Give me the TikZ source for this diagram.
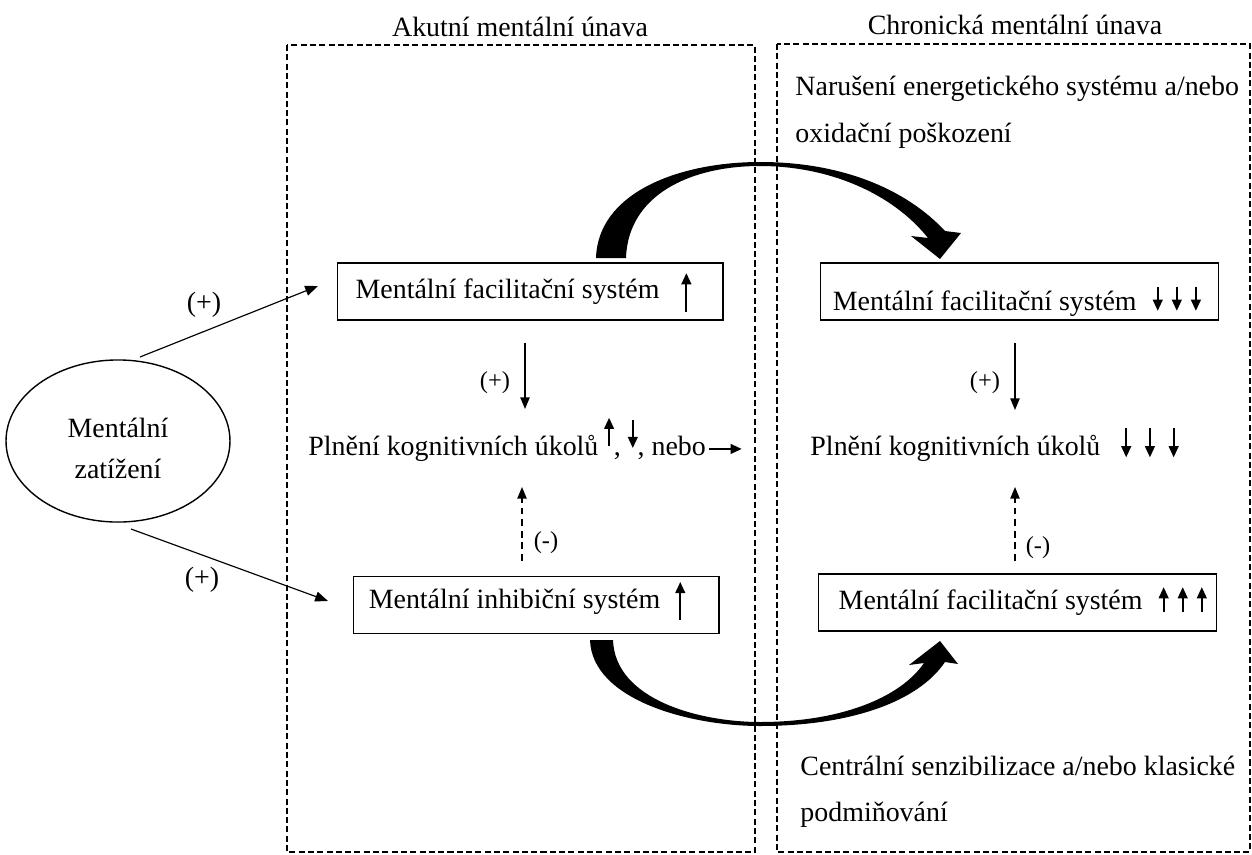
\documentclass[tikz,border=0pt]{standalone}
\usepackage{fontspec}
\setmainfont{Liberation Serif}
\usetikzlibrary{arrows.meta,shapes.geometric}
\newcommand{\varr}[2]{\tikz[baseline=0pt]\draw[line width=0.8pt,-{Triangle[length=4.8pt,width=4.2pt]}] (0,#1) -- (0,#2);}
\newcommand{\rta}{\tikz[baseline=0pt]\draw[line width=0.8pt,-{Triangle[length=4.8pt,width=4.2pt]}] (0,2.6pt) -- (14pt,2.6pt);}
\begin{document}
\begin{tikzpicture}[x=0.43pt,y=-0.43pt,font=\fontsize{12}{14}\selectfont,
  frame/.style={draw,line width=0.5pt,dash pattern=on 2.6pt off 1.4pt},
  mbox/.style={draw,line width=0.6pt,minimum height=24.5pt,inner ysep=0pt,text depth=0pt,anchor=west},
  conn/.style={line width=0.5pt,-{Triangle[length=5.5pt,width=4.3pt]}},
  vconn/.style={line width=0.6pt,-{Triangle[length=5pt,width=4pt]}},
  dconn/.style={vconn,dash pattern=on 3pt off 2pt},
  plab/.style={font=\fontsize{10.5}{12}\selectfont},
  bigarrow/.style={fill=black,draw=none}]
\useasboundingbox (0,0) rectangle (1252,855);
% dashed frames
\draw[frame] (287,45) rectangle (755,852);
\draw[frame] (777,44) rectangle (1250,852);
% titles
\node (t1) at (520,27) {Akutní mentální únava};
\node (t2) at (1015,25) {Chronická mentální únava};
% right texts
\node[anchor=base west,inner sep=0] (n1) at (795,95) {Narušení energetického systému a/nebo};
\node[anchor=base west,inner sep=0] (n2) at (795,142) {oxidační poškození};
\node[anchor=base west,inner sep=0] (c1) at (800,775) {Centrální senzibilizace a/nebo klasické};
\node[anchor=base west,inner sep=0] (c2) at (800,821) {podmiňování};
% boxes
\node[mbox,inner xsep=7.7pt,text height=5.6pt] (tl) at (337,291.5)
  {\makebox[150.2pt][l]{Mentální facilitační systém\hspace{9.5pt}\varr{-6pt}{10.7pt}}};
\node[mbox,inner xsep=5.2pt,text height=16pt] (tr) at (820,291.5)
  {\makebox[160.7pt][l]{Mentální facilitační systém\hspace{7pt}\varr{9.8pt}{-0.3pt}\hspace{4pt}\varr{9.8pt}{-0.3pt}\hspace{4pt}\varr{9.8pt}{-0.3pt}}};
\node[mbox,inner xsep=6.5pt,text height=2.6pt] (bl) at (353,605)
  {\makebox[144pt][l]{Mentální inhibiční systém\hspace{6.5pt}\varr{-5.2pt}{11.2pt}}};
\node[mbox,inner xsep=8.6pt,text height=6.4pt] (br) at (818,602.5)
  {\makebox[153.9pt][l]{Mentální facilitační systém\hspace{7pt}\varr{-1pt}{9.8pt}\hspace{4pt}\varr{-1pt}{9.8pt}\hspace{4pt}\varr{-1pt}{9.8pt}}};
% performance lines
\node[anchor=base west,inner sep=0] (pl) at (308,455) {Plnění kognitivních úkolů\hspace{2.5pt}\varr{4pt}{16pt}, \varr{15pt}{3pt}, nebo\hspace{1pt}\rta};
\node[anchor=base west,inner sep=0] (pr) at (810,455) {Plnění kognitivních úkolů\hspace{9pt}\varr{11.6pt}{-1pt}\hspace{6pt}\varr{11.6pt}{-1pt}\hspace{6pt}\varr{11.6pt}{-1pt}};
% ellipse
\node[draw,line width=0.6pt,ellipse,minimum width=96.3pt,minimum height=69.7pt,inner sep=0] (ml) at (118,441) {};
\node[anchor=base] (ml1) at (118,437) {Mentální};
\node[anchor=base] (ml2) at (118,478) {zatížení};
% ellipse arrows
\coordinate (e1) at (140,357);
\coordinate (e1t) at (318,286);
\coordinate (e2) at (131,529);
\coordinate (e2t) at (328,601);
\draw[conn] (e1) -- (e1t);
\draw[conn] (e2) -- (e2t);
\node (p1) at (204,305) {(+)};
\node (p2) at (202,580) {(+)};
% vertical arrows
\coordinate (v1s) at (525,343); \coordinate (v1e) at (525,409);
\coordinate (v2s) at (1015,343); \coordinate (v2e) at (1015,410);
\coordinate (v3s) at (522,561); \coordinate (v3e) at (522,487);
\coordinate (v4s) at (1015,561); \coordinate (v4e) at (1015,487);
\draw[vconn] (v1s) -- (v1e);
\draw[vconn] (v2s) -- (v2e);
\draw[dconn] (v3s) -- (v3e);
\draw[dconn] (v4s) -- (v4e);
\node[plab] (p3) at (495,383) {(+)};
\node[plab] (p4) at (985,383) {(+)};
\node[plab] (p5) at (546,543) {(-)};
\node[plab] (p6) at (1038,548) {(-)};
% big curved arrows
\fill[bigarrow] (596,258) .. controls (598,192) and (680,162) .. (760,162)
  .. controls (840,162) and (905,188) .. (945,231) -- (961,233) -- (940,259) -- (911,236) -- (928,238)
  .. controls (893,194) and (830,166) .. (760,166)
  .. controls (690,166) and (628,195) .. (626,258) -- cycle;
\fill[bigarrow] (590,640) .. controls (592,700) and (690,726) .. (760,726)
  .. controls (850,726) and (918,702) .. (945,662) -- (958,664) -- (940,641) -- (909,665) -- (924,663)
  .. controls (900,698) and (840,722) .. (760,722)
  .. controls (700,722) and (615,700) .. (613,640) -- cycle;
\end{tikzpicture}
\end{document}
